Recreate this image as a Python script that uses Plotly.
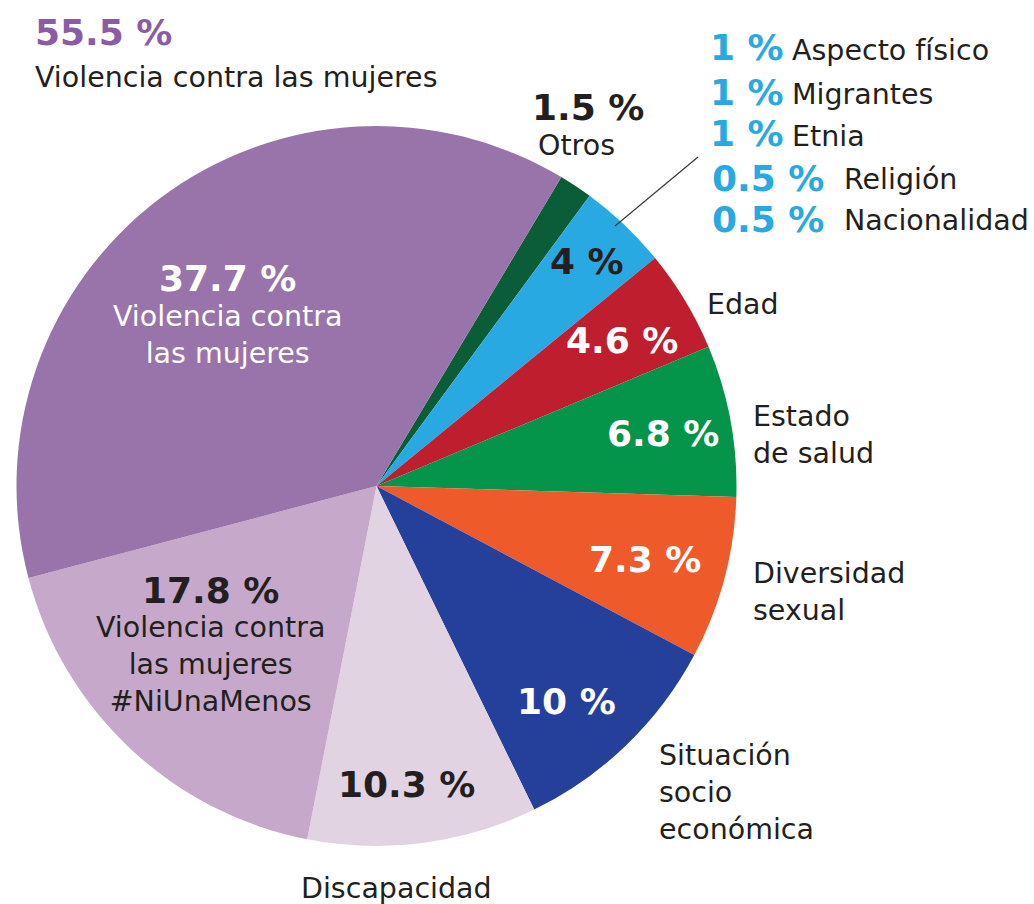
import plotly.graph_objects as go

# ---- data ----
categories = ["Otros", "Otros grupos", "Edad", "Estado de salud", "Diversidad sexual",
              "Situación socio económica", "Discapacidad",
              "Violencia contra las mujeres #NiUnaMenos", "Violencia contra las mujeres"]
values = [1.5, 4, 4.6, 6.8, 7.3, 10, 10.3, 17.8, 37.7]
total_women = 55.5
sub_labels = ["Aspecto físico", "Migrantes", "Etnia", "Religión", "Nacionalidad"]
sub_values = [1, 1, 1, 0.5, 0.5]

colors = ["#0b5d37", "#29a9e1", "#be1e2e", "#04944a", "#ef5a2a",
          "#25409a", "#e2d3e3", "#c6a9ca", "#9874aa"]

W, H = 1034, 904
FONT = "DejaVu Sans"
DARK = "#231f20"
PURPLE = "#8a5ca7"
BLUE = "#29a9e1"

def px(x):
    return x / W

def py(y):
    return 1 - y / H

def pct(v):
    return f"{v:g} %"

# pie geometry (pixels)
cx, cy, r = 376.5, 486, 360

fig = go.Figure(go.Pie(
    labels=categories, values=values, sort=False, direction="clockwise",
    rotation=30.9, marker=dict(colors=colors, line=dict(width=0)),
    textinfo="none", hoverinfo="label+value", showlegend=False,
    domain=dict(x=[px(cx - r), px(cx + r)], y=[py(cy + r), py(cy - r)]),
))

ann = []

def add(text, x, y, size, color, bold=False, xanchor="center", align="center"):
    t = f"<b>{text}</b>" if bold else text
    ann.append(dict(text=t, x=px(x), y=py(y), xref="paper", yref="paper",
                    xanchor=xanchor, yanchor="middle", align=align, showarrow=False,
                    font=dict(family=FONT, size=size, color=color)))

PS = 36    # percent size
LS = 28.5  # label size

# top-left total
add(pct(total_women), 33, 33, PS, PURPLE, True, "left")
add("Violencia contra las mujeres", 33, 78, LS, DARK, False, "left")

# Otros
add(pct(values[0]), 588, 107, PS, DARK, True)
add("Otros", 576, 146, LS, DARK)

# blue breakdown
rows_y = [48, 92, 134, 178, 219]
for lab, v, yy in zip(sub_labels, sub_values, rows_y):
    p = pct(v)
    x0 = 708 if v >= 1 else 710
    lx = 790 if v >= 1 else 842
    add(p, x0, yy, PS, BLUE, True, "left")
    add(lab, lx, yy + 2, LS, DARK, False, "left")

# in-slice percentages
add(pct(values[1]), 587, 262, PS, DARK, True)
add(pct(values[2]), 622, 340, PS, "white", True)
add(pct(values[3]), 663, 433, PS, "white", True)
add(pct(values[4]), 645, 559, PS, "white", True)
add(pct(values[5]), 566, 701, PS, "white", True)
add(pct(values[6]), 406, 784, PS, DARK, True)
add(pct(values[7]), 210, 590, PS, DARK, True)
add(pct(values[8]), 227, 278, PS, "white", True)

# outside labels
add("Edad", 705, 304, LS, DARK, False, "left")
add("Estado<br>de salud", 751, 435, LS, DARK, False, "left", "left")
add("Diversidad<br>sexual", 751, 592, LS, DARK, False, "left", "left")
add("Situación<br>socio<br>económica", 657, 792, LS, DARK, False, "left", "left")
add("Discapacidad", 396, 888, LS, DARK)

# in-slice labels
add("Violencia contra<br>las mujeres", 227, 335, LS, "white")
add("Violencia contra<br>las mujeres<br>#NiUnaMenos", 210, 664, LS, DARK)

fig.update_layout(
    width=W, height=H, margin=dict(l=0, r=0, t=0, b=0),
    paper_bgcolor="white", plot_bgcolor="white",
    annotations=ann,
    shapes=[dict(type="line", xref="paper", yref="paper",
                 x0=px(615), y0=py(226), x1=px(698), y1=py(157),
                 line=dict(color="#3a3a3a", width=1.2))],
)

fig.write_html("out.html", config={"displayModeBar": False},
               post_script="document.body.style.margin='0';")
